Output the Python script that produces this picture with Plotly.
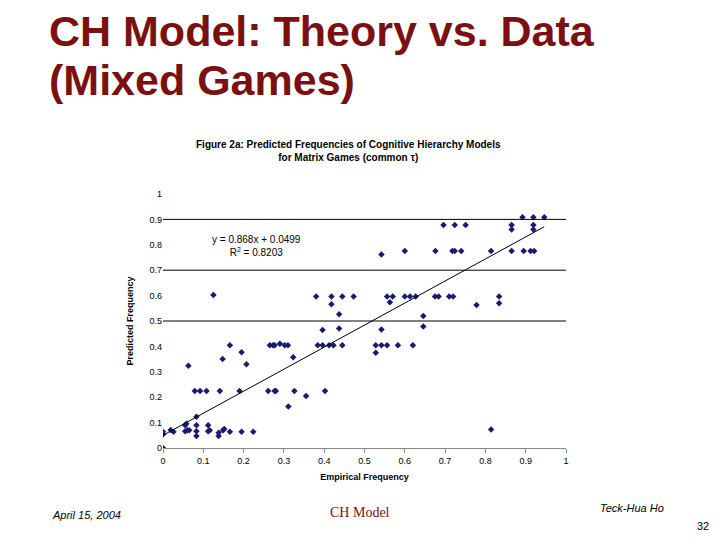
import plotly.graph_objects as go

# empirical (x) vs predicted (y) frequencies
empirical = [0.0, 0.0, 0.0, 0.019, 0.026, 0.055, 0.055, 0.06, 0.065, 0.058, 0.083, 0.083, 0.083, 0.083,
             0.063, 0.079, 0.092, 0.108, 0.141, 0.112, 0.112, 0.116, 0.138, 0.138, 0.149, 0.152, 0.166, 0.195, 0.224,
             0.125, 0.148, 0.166, 0.19, 0.195, 0.207, 0.261, 0.277, 0.28, 0.265, 0.273, 0.277, 0.29, 0.302, 0.31,
             0.311, 0.323, 0.326, 0.355, 0.384, 0.396, 0.412, 0.402, 0.38, 0.418, 0.445, 0.473, 0.418, 0.437, 0.437,
             0.423, 0.445, 0.396,
             0.696, 0.724, 0.751, 0.892, 0.919, 0.946, 0.865, 0.865, 0.919, 0.919,
             0.542, 0.6, 0.676, 0.718, 0.724, 0.74, 0.814, 0.865, 0.895, 0.912, 0.921,
             0.556, 0.563, 0.57, 0.6, 0.613, 0.627, 0.675, 0.684, 0.71, 0.72, 0.778, 0.834, 0.834,
             0.646, 0.646, 0.542, 0.528, 0.528, 0.542, 0.556, 0.583, 0.62, 0.814]
predicted = [0.0, 0.064, 0.053, 0.071, 0.064, 0.09, 0.066, 0.07, 0.07, 0.095, 0.123, 0.09, 0.066, 0.047,
             0.324, 0.224, 0.224, 0.224, 0.224, 0.09, 0.066, 0.07, 0.06, 0.047, 0.07, 0.075, 0.064, 0.064, 0.064,
             0.602, 0.35, 0.405, 0.224, 0.377, 0.33, 0.224, 0.224, 0.224, 0.405, 0.405, 0.405, 0.41, 0.405, 0.405,
             0.163, 0.357, 0.224, 0.205, 0.405, 0.405, 0.405, 0.224, 0.596, 0.596, 0.596, 0.596, 0.566, 0.527, 0.47,
             0.405, 0.405, 0.465,
             0.878, 0.878, 0.878, 0.908, 0.908, 0.908, 0.878, 0.86, 0.878, 0.86,
             0.762, 0.776, 0.776, 0.776, 0.776, 0.776, 0.776, 0.776, 0.776, 0.776, 0.776,
             0.596, 0.574, 0.596, 0.596, 0.596, 0.596, 0.596, 0.596, 0.596, 0.596, 0.563, 0.596, 0.57,
             0.52, 0.478, 0.467, 0.405, 0.375, 0.405, 0.405, 0.405, 0.405, 0.073]

tick_vals = [0, 0.1, 0.2, 0.3, 0.4, 0.5, 0.6, 0.7, 0.8, 0.9, 1]
tick_text = ["0", "0.1", "0.2", "0.3", "0.4", "0.5", "0.6", "0.7", "0.8", "0.9", "1"]

slope = 0.868
intercept = 0.0499
trend_x = [0.0, 0.946]
trend_y = [slope * v + intercept for v in trend_x]

navy = "#1a1a6e"
red = "#7b1010"
W, H = 712, 532  # page sits 8px in from the window edge
L, R, T, B = 155, 154, 186, 92

fig = go.Figure()
fig.add_trace(go.Scatter(x=empirical, y=predicted, mode="markers",
                         marker=dict(symbol="diamond", size=5, color=navy)))
fig.add_trace(go.Scatter(x=trend_x, y=trend_y, mode="lines", line=dict(color="black", width=1)))

for g in [0.5, 0.7, 0.9]:
    fig.add_shape(type="line", xref="paper", x0=0, x1=1, yref="y", y0=g, y1=g,
                  line=dict(color="black", width=1))

small = dict(family="Liberation Sans", size=9, color="black")
fig.update_layout(
    width=W, height=H, showlegend=False,
    paper_bgcolor="white", plot_bgcolor="white",
    margin=dict(l=L, r=R, t=T, b=B, autoexpand=False),
    xaxis=dict(range=[0, 1], tickvals=tick_vals, ticktext=tick_text,
               showgrid=False, zeroline=False, showline=True, linecolor="#888", ticks="outside",
               ticklen=4, tickcolor="#888", tickfont=small,
               title=dict(text="<b>Empirical Frequency</b>", font=small, standoff=8)),
    yaxis=dict(range=[0, 1], tickvals=tick_vals, ticktext=tick_text,
               showgrid=False, zeroline=False, showline=False, tickfont=small,
               title=dict(text="<b>Predicted Frequency</b>", font=small, standoff=14)),
)

# (text, x px, y px in the window, anchor, font)
anns = [
    ("<b>CH Model: Theory vs. Data</b>", 47, 31, "left", dict(family="Liberation Sans", size=43, color=red)),
    ("<b>(Mixed Games)</b>", 47, 80, "left", dict(family="Liberation Sans", size=43, color=red)),
    ("<b>Figure 2a: Predicted Frequencies of Cognitive Hierarchy Models<br>for Matrix Games (common τ)</b>",
     348, 151, "center", dict(family="Liberation Sans", size=10, color="black")),
    ("y = 0.868x + 0.0499<br>R<sup>2</sup> = 0.8203", 256, 246, "center",
     dict(family="Liberation Sans", size=10, color="black")),
    ("<i>April 15, 2004</i>", 50, 515, "left", dict(family="Liberation Sans", size=11, color="black")),
    ("CH Model", 360, 512, "center", dict(family="Liberation Serif", size=14, color=red)),
    ("<i>Teck-Hua Ho</i>", 598, 508, "left", dict(family="Liberation Sans", size=11, color="black")),
    ("32", 711, 526, "right", dict(family="Liberation Sans", size=11, color="black")),
]
for text, px, py, anchor, font in anns:
    px, py = px - 8, py - 8
    fig.add_annotation(text=text, showarrow=False, xref="paper", yref="paper",
                       x=(px - L) / (W - L - R), y=(H - py - B) / (H - T - B),
                       xanchor=anchor, yanchor="middle", font=font)

fig.write_html("out.html")
